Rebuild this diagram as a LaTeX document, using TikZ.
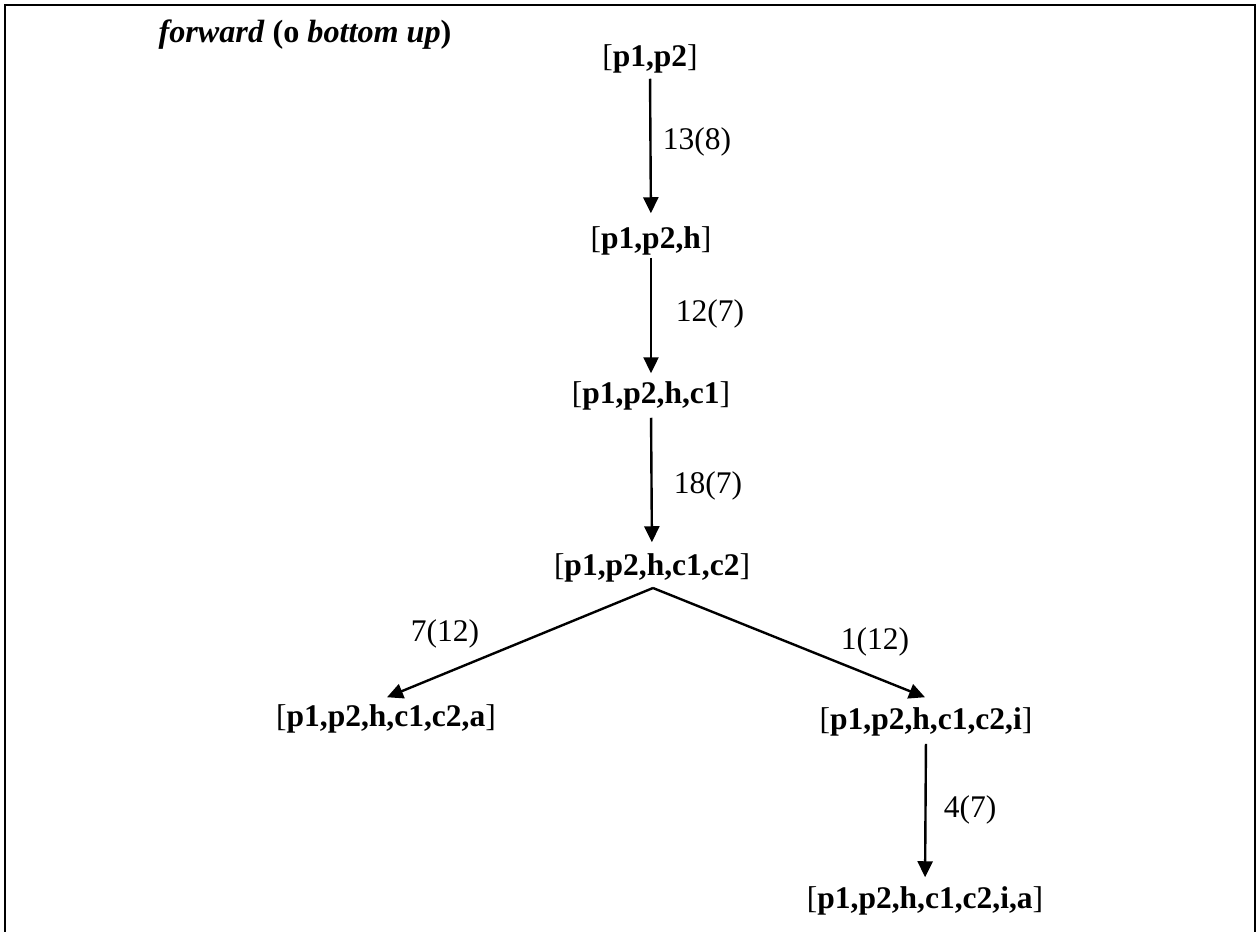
\documentclass[tikz,border=0pt]{standalone}
\usepackage{fontspec}
\setmainfont{Liberation Serif}
\usetikzlibrary{arrows.meta}
\begin{document}
\begin{tikzpicture}[x=1pt,y=-1pt,
  txt/.style={inner sep=0pt, font=\fontsize{31.5}{36}\selectfont, text height=21.4pt, text depth=5.7pt},
  st/.style={txt},
  lab/.style={txt},
  arr/.style={line width=2.4pt, -{Triangle[length=16pt,width=15pt]}},
  ]
\useasboundingbox (0,0) rectangle (1260,931);
\draw[line width=2.2pt] (5,945) -- (5,5) -- (1255,5) -- (1255,945);

\node[txt, font=\fontsize{32.2}{36}\selectfont] (title) at (305,35) {\textbf{\textit{forward} (o \textit{bottom up})}};

\node[st] (n1) at (650,59)  {[\textbf{p1,p2}]};
\node[st] (n2) at (651,241) {[\textbf{p1,p2,h}]};
\node[st] (n3) at (651,396) {[\textbf{p1,p2,h,c1}]};
\node[st] (n4) at (652,568) {[\textbf{p1,p2,h,c1,c2}]};
\node[st] (n5) at (386,719) {[\textbf{p1,p2,h,c1,c2,a}]};
\node[st] (n6) at (926,722) {[\textbf{p1,p2,h,c1,c2,i}]};
\node[st] (n7) at (925,901) {[\textbf{p1,p2,h,c1,c2,i,a}]};

\coordinate (ap) at (653,588);

\draw[arr, shorten <=6pt, shorten >=14pt] (n1.south) -- (n2.north);
\draw[arr, shorten <=3pt, shorten >=9pt] (n2.south) -- (n3.north);
\draw[arr, shorten <=8pt, shorten >=12pt] (n3.south) -- (n4.north);
\draw[arr] (ap) -- ([xshift=1pt,yshift=8pt]n5.north);
\draw[arr] (ap) -- ([xshift=-1pt,yshift=11pt]n6.north);
\draw[arr, shorten <=8pt, shorten >=10pt] (n6.south) -- (n7.north);

\node[lab] (l1) at (697,142) {13(8)};
\node[lab] (l2) at (710,314) {12(7)};
\node[lab] (l3) at (708,486) {18(7)};
\node[lab] (l4) at (445,634) {7(12)};
\node[lab] (l5) at (875,642) {1(12)};
\node[lab] (l6) at (970,810) {4(7)};
\end{tikzpicture}
\end{document}
